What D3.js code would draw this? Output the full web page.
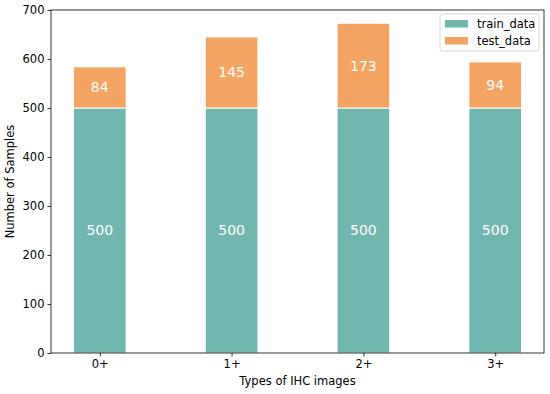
<!DOCTYPE html>
<html><head><meta charset="utf-8">
<script src="https://cdn.jsdelivr.net/npm/d3@7"></script>
<style>body{margin:0;background:#fff}svg{display:block;font-family:"DejaVu Sans",sans-serif}</style>
</head><body><svg id="c" width="550" height="394"></svg>
<script>
const categories = ["0+","1+","2+","3+"];
const trainData = [500,500,500,500];
const testData = [84,145,173,94];
const yTicks = [0,100,200,300,400,500,600,700];
const seriesNames = ["train_data","test_data"];
const colors = ["#72b6b0","#f4a462"];

const svg = d3.select("#c");
const L=51,R=544,T=10,B=353;
const x = d3.scaleLinear().domain([-0.37,3.37]).range([L,R]);
const y = d3.scaleLinear().domain([0,700]).range([B,T]);
const bw = x(0.4)-x(0);

const g = svg.append("g");
categories.forEach((c,i)=>{
  const cx = x(i);
  g.append("rect").attr("x",cx-bw/2).attr("width",bw)
    .attr("y",y(trainData[i])).attr("height",y(0)-y(trainData[i]))
    .attr("fill",colors[0]).attr("stroke","#fff").attr("stroke-width",1);
  g.append("rect").attr("x",cx-bw/2).attr("width",bw)
    .attr("y",y(trainData[i]+testData[i])).attr("height",y(trainData[i])-y(trainData[i]+testData[i]))
    .attr("fill",colors[1]).attr("stroke","#fff").attr("stroke-width",1);
  g.append("text").attr("x",cx).attr("y",y(trainData[i]/2)).attr("dy","0.35em")
    .attr("text-anchor","middle").attr("fill","#fff").attr("font-size",14).text(trainData[i]);
  g.append("text").attr("x",cx).attr("y",y(trainData[i]+testData[i]/2)).attr("dy","0.35em")
    .attr("text-anchor","middle").attr("fill","#fff").attr("font-size",14).text(testData[i]);
});

const yAxis = d3.axisLeft(y).tickValues(yTicks).tickSize(3.5).tickPadding(3);
const ya = svg.append("g").attr("transform",`translate(${L},0)`).call(yAxis);
const xAxis = d3.axisBottom(x).tickValues([0,1,2,3]).tickFormat((d)=>categories[d]).tickSize(3.5).tickPadding(3);
const xa = svg.append("g").attr("transform",`translate(0,${B})`).call(xAxis);
[ya,xa].forEach(a=>{a.selectAll("text").attr("font-size",11.5).attr("fill","#000").attr("font-family","DejaVu Sans");
  a.select(".domain").remove(); a.selectAll("line").attr("stroke","#000").attr("stroke-width",0.8);});
svg.append("rect").attr("x",L).attr("y",T).attr("width",R-L).attr("height",B-T)
  .attr("fill","none").attr("stroke","#000").attr("stroke-width",0.8);

svg.append("text").attr("x",(L+R)/2).attr("y",385).attr("text-anchor","middle")
  .attr("font-size",11.5).text("Types of IHC images");
svg.append("text").attr("transform",`translate(14,${(T+B)/2}) rotate(-90)`).attr("text-anchor","middle")
  .attr("font-size",11.5).text("Number of Samples");

const lg = svg.append("g");
lg.append("rect").attr("x",440).attr("y",14).attr("width",99).attr("height",37).attr("rx",2.5)
  .attr("fill","#fff").attr("fill-opacity",0.8).attr("stroke","#ccc").attr("stroke-width",0.8);
seriesNames.forEach((n,i)=>{
  lg.append("rect").attr("x",445).attr("y",20+i*17).attr("width",23).attr("height",7.5).attr("fill",colors[i]);
  lg.append("text").attr("x",477).attr("y",24+i*17).attr("dy","0.35em").attr("font-size",11.5).text(n);
});
</script></body></html>
